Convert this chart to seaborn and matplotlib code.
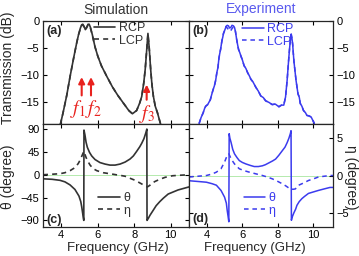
import matplotlib
matplotlib.use("Agg")
import matplotlib.pyplot as plt
import numpy as np
import pandas as pd
import seaborn as sns

# ---- data ----
# simulated transmission (dB)
sim_f = [3.95, 4.1, 4.3, 4.5, 4.7, 4.85, 4.95, 5.05, 5.12, 5.18, 5.25, 5.32, 5.4, 5.47,
         5.53, 5.6, 5.7, 5.85, 6.0, 6.2, 6.5, 6.8, 7.1, 7.4, 7.7, 7.9, 8.13, 8.3, 8.41,
         8.52, 8.6, 8.68, 8.75, 8.82, 8.9, 8.97, 9.05, 9.15, 9.27, 9.45]
sim_rcp = [-19.2, -17.0, -13.8, -10.0, -6.5, -4.0, -2.5, -1.3, -0.7, -0.6, -1.0, -1.6, -1.1, -0.6,
           -0.6, -1.2, -2.5, -4.8, -6.5, -8.3, -10.3, -12.2, -13.8, -15.2, -16.6, -17.2, -16.6, -15.2, -14.0,
           -11.5, -9.0, -5.5, -2.3, -5.0, -9.0, -11.8, -14.0, -15.8, -17.0, -19.2]
sim_lcp = [-19.2, -17.0, -13.8, -10.0, -6.5, -4.0, -2.5, -1.4, -0.8, -0.7, -1.1, -1.7, -1.2, -0.7,
           -0.7, -1.3, -2.6, -4.8, -6.5, -8.3, -10.3, -12.2, -13.8, -15.2, -16.6, -17.2, -16.6, -15.2, -14.0,
           -11.5, -9.0, -5.5, -2.4, -5.0, -9.0, -11.8, -14.0, -15.8, -17.0, -19.2]

# measured transmission (dB)
exp_f = [3.57, 3.68, 3.8, 3.88, 3.94, 4.05, 4.2, 4.28, 4.35, 4.43, 4.5, 4.57, 4.63, 4.68, 4.72,
         4.78, 4.85, 4.9, 4.94, 5.0, 5.09, 5.15, 5.22, 5.28, 5.35, 5.42, 5.5, 5.56, 5.61, 5.68,
         5.74, 5.79, 5.85, 5.92, 6.0, 6.1, 6.2, 6.3, 6.4, 6.48, 6.6, 6.76, 6.9, 7.04, 7.18,
         7.31, 7.5, 7.68, 7.85, 8.06, 8.2, 8.33, 8.43, 8.52, 8.61, 8.66, 8.7, 8.75, 8.79, 8.83,
         8.9, 8.96, 9.02, 9.13, 9.2, 9.26, 9.35, 9.44, 9.55, 9.63, 9.75, 9.87, 9.96, 10.05]
exp_rcp = [-19.0, -17.9, -17.0, -16.2, -15.8, -15.5, -14.6, -13.6, -12.8, -12.0, -11.0, -9.5, -8.6, -7.0, -6.2,
           -5.2, -3.7, -3.0, -2.3, -1.8, -1.0, -0.8, -0.9, -1.3, -1.2, -0.8, -0.9, -1.2, -1.9, -3.4,
           -4.5, -5.3, -5.8, -6.5, -7.2, -8.3, -8.8, -9.6, -10.2, -10.8, -11.3, -12.3, -13.0, -13.9, -14.2,
           -14.8, -15.1, -15.5, -15.4, -15.9, -15.6, -15.6, -14.1, -11.0, -7.0, -5.0, -3.6, -2.4, -3.2, -4.3,
           -7.4, -9.2, -11.0, -13.5, -14.1, -15.3, -15.8, -16.6, -17.0, -17.5, -17.6, -17.8, -18.4, -19.0]
exp_lcp = [-19.0, -17.9, -17.0, -16.2, -15.8, -15.5, -14.6, -13.6, -12.8, -12.0, -11.0, -9.5, -8.6, -7.0, -6.2,
           -5.2, -3.7, -3.0, -2.3, -1.8, -1.0, -1.3, -1.6, -1.9, -1.8, -1.4, -1.1, -1.3, -1.9, -3.4,
           -4.5, -5.3, -5.8, -6.5, -7.2, -8.3, -8.8, -9.6, -10.2, -10.8, -11.3, -12.3, -13.0, -13.9, -14.2,
           -14.8, -15.1, -15.5, -15.4, -15.9, -15.6, -15.6, -14.1, -11.0, -7.0, -5.0, -3.6, -2.6, -3.2, -4.3,
           -7.4, -9.2, -11.0, -13.5, -14.1, -15.3, -15.8, -16.6, -17.0, -17.5, -17.6, -17.8, -18.4, -19.0]

# simulated rotation angle theta and ellipticity eta (degree)
sim_theta_f = [3.0, 3.5, 3.93, 4.2, 4.48, 4.75, 4.97, 5.07, 5.12, 5.17, 5.21, 5.235, 5.245, 5.3,
               5.36, 5.43, 5.55, 5.67, 5.85, 6.12, 6.4, 6.67, 6.95, 7.22, 7.5, 7.77, 7.95, 8.13,
               8.3, 8.41, 8.53, 8.63, 8.69, 8.70, 8.77, 8.86, 9.04, 9.2, 9.4, 9.6, 9.86, 10.4, 11.0]
sim_theta = [-8, -9, -11, -14, -20, -29, -42, -53, -63, -75, -85, -90, 88, 78,
             64, 54, 44, 37, 30, 24, 21, 19, 19, 21, 25, 31, 37, 46,
             55, 62, 71, 82, 90, -90, -86, -80, -70, -61, -53, -46, -38, -30, -24]
sim_eta_f = [3.0, 3.5, 3.93, 4.2, 4.48, 4.75, 4.93, 5.05, 5.12, 5.2, 5.245, 5.3, 5.36, 5.45,
             5.58, 5.75, 5.95, 6.3, 6.67, 7.0, 7.2, 7.5, 7.77, 8.05, 8.3, 8.5, 8.72, 8.85,
             8.95, 9.15, 9.4, 9.7, 10.1, 10.5, 11.0]
sim_eta = [0, 1, 2, 4, 8, 14, 22, 30, 36, 43, 46, 40, 34, 27,
           19, 12, 8, 4, 2, 0, -1, -3, -7, -11, -16, -20, -24, -21,
           -17, -13, -9, -5, -2, -1, 0]

# measured theta and eta (degree)
exp_theta_f = [3.0, 3.5, 3.98, 4.3, 4.54, 4.8, 5.0, 5.1, 5.15, 5.2, 5.24, 5.26, 5.3, 5.37,
               5.46, 5.56, 5.7, 5.83, 6.0, 6.2, 6.45, 6.67, 6.9, 7.13, 7.3, 7.5, 7.7, 7.87,
               8.05, 8.24, 8.4, 8.52, 8.62, 8.7, 8.74, 8.76, 8.8, 8.9, 9.0, 9.07, 9.2, 9.35,
               9.5, 9.72, 10.0, 10.28, 10.6, 10.93, 11.1]
exp_theta = [-0.7, -0.8, -0.9, -1.1, -1.3, -2.0, -2.9, -3.7, -4.7, -5.5, -6.2, 5.6, 5.0, 4.4,
             3.5, 2.9, 2.4, 2.0, 1.75, 1.55, 1.35, 1.2, 1.2, 1.3, 1.45, 1.7, 1.95, 2.2,
             2.7, 3.3, 3.8, 4.4, 5.0, 5.6, 6.0, -6.0, -5.6, -5.0, -4.5, -4.0, -3.5, -3.1,
             -2.8, -2.4, -2.2, -2.0, -1.8, -1.6, -1.6]
exp_eta_f = [3.0, 3.5, 3.98, 4.3, 4.54, 4.8, 5.0, 5.15, 5.24, 5.3, 5.37, 5.46, 5.56, 5.7,
             5.83, 6.1, 6.39, 6.8, 7.13, 7.4, 7.69, 8.0, 8.24, 8.45, 8.6, 8.74, 8.85, 8.98,
             9.17, 9.45, 9.72, 10.0, 10.28, 10.6, 10.93, 11.1]
exp_eta = [-0.2, -0.1, 0.0, 0.2, 0.45, 0.9, 1.8, 2.7, 2.9, 2.6, 2.2, 1.9, 1.55, 1.2,
           0.9, 0.65, 0.45, 0.2, 0.0, -0.2, -0.45, -0.8, -1.1, -1.4, -1.65, -1.8, -1.85, -1.8,
           -1.3, -1.0, -0.67, -0.45, -0.2, -0.1, 0.0, 0.0]

# arrows / labels for the resonance frequencies
f_marks = [5.12, 5.63, 8.68]
f_names = ['$f_1$', '$f_2$', '$f_3$']

GRAY = '#333333'
BLUE = '#3b3bee'
RED = '#e8221e'

sns.set_theme(style="ticks")
plt.rcParams['font.family'] = ['Liberation Sans', 'DejaVu Sans']
plt.rcParams['mathtext.fontset'] = 'stix'
plt.rcParams['axes.linewidth'] = 0.9
for a in ['x', 'y']:
    plt.rcParams[f'{a}tick.direction'] = 'in'
    plt.rcParams[f'{a}tick.major.size'] = 3
    plt.rcParams[f'{a}tick.major.width'] = 0.8
    plt.rcParams[f'{a}tick.labelsize'] = 8
    plt.rcParams[f'{a}tick.major.pad'] = 2.5

W, H = 359, 256
fig = plt.figure(figsize=(W / 100, H / 100), dpi=100)


def box(x0, y0, x1, y1):
    return [x0 / W, 1 - y1 / H, (x1 - x0) / W, (y1 - y0) / H]


ax_a = fig.add_axes(box(43, 21, 189, 124))
ax_b = fig.add_axes(box(189, 21, 333, 124))
ax_c = fig.add_axes(box(43, 124, 189, 227))
ax_d = fig.add_axes(box(189, 124, 333, 227))


def line(ax, x, y, color, ls='-', label=None, lw=1.2):
    df = pd.DataFrame({'f': x, 'v': y})
    sns.lineplot(data=df, x='f', y='v', ax=ax, color=color, linestyle=ls, lw=lw,
                 estimator=None, sort=False, label=label, legend=False)


# (a) simulation transmission
line(ax_a, sim_f, sim_rcp, GRAY, '-', 'RCP')
line(ax_a, sim_f, sim_lcp, GRAY, (0, (3, 2.5)), 'LCP')
# (b) experiment transmission
line(ax_b, exp_f, exp_rcp, BLUE, '-', 'RCP', lw=1.1)
line(ax_b, exp_f, exp_lcp, BLUE, (0, (3, 2.5)), 'LCP', lw=1.1)
# (c) simulation angles
for ax in (ax_c, ax_d):
    ax.axhline(0, color='#a8e6a0', lw=0.6, zorder=0)
line(ax_c, sim_theta_f, sim_theta, GRAY, '-', 'θ')
line(ax_c, sim_eta_f, sim_eta, GRAY, (0, (3, 2.5)), 'η')
# (d) experiment angles
line(ax_d, exp_theta_f, exp_theta, BLUE, '-', 'θ', lw=1.1)
line(ax_d, exp_eta_f, exp_eta, BLUE, (0, (3, 2.5)), 'η', lw=1.1)

# axis ranges and ticks
for ax in (ax_a, ax_b, ax_c, ax_d):
    ax.set_xlabel('')
    ax.set_ylabel('')
    ax.set_xticks([4, 6, 8, 10])
    ax.tick_params(top=True, right=True, left=True, bottom=True, colors='black')
ax_a.set_xlim(3, 11)
ax_c.set_xlim(3, 11)
ax_b.set_xlim(3, 11.1)
ax_d.set_xlim(3, 11.1)
for ax in (ax_a, ax_b):
    ax.set_ylim(-19.1, 0)
    ax.set_yticks([0, -5, -10, -15])
    ax.tick_params(labelbottom=False)
ax_c.set_ylim(-103, 100)
ax_c.set_yticks([90, 45, 0, -45, -90])
ax_d.set_ylim(-6.9, 6.9)
ax_d.set_yticks([5, 0, -5])
for ax in (ax_b, ax_d):
    ax.tick_params(labelleft=False, labelright=True)

# titles and labels
fig.text(116 / W, 1 - 10 / H, 'Simulation', ha='center', va='center', fontsize=10, color=GRAY)
fig.text(261 / W, 1 - 9 / H, 'Experiment', ha='center', va='center', fontsize=10, color='#5a5aee')
fig.text(8 / W, 1 - 68 / H, 'Transmission (dB)', rotation=90, ha='center', va='center', fontsize=10)
fig.text(8 / W, 1 - 177 / H, 'θ (degree)', rotation=90, ha='center', va='center', fontsize=10)
fig.text(351 / W, 1 - 177 / H, 'η (degree)', rotation=-90, ha='center', va='center', fontsize=10)
fig.text(118 / W, 1 - 248 / H, 'Frequency (GHz)', ha='center', va='center', fontsize=9.5)
fig.text(255 / W, 1 - 248 / H, 'Frequency (GHz)', ha='center', va='center', fontsize=9.5)

# panel letters
for ax, tag in ((ax_a, '(a)'), (ax_b, '(b)')):
    ax.text(0.02, 0.9, tag, transform=ax.transAxes, fontsize=9, fontweight='bold', va='center')
ax_c.text(0.025, 0.07, '(c)', transform=ax_c.transAxes, fontsize=9, fontweight='bold', va='center')
ax_d.text(0.02, 0.08, '(d)', transform=ax_d.transAxes, fontsize=9, fontweight='bold', va='center')

# legends
leg_kw = dict(frameon=False, loc='upper left', fontsize=9, handlelength=1.7,
              handletextpad=0.3, labelspacing=0.05, borderpad=0, borderaxespad=0)
ax_a.legend(bbox_to_anchor=(0.35, 0.99), labelcolor=GRAY, **leg_kw)
ax_b.legend(bbox_to_anchor=(0.37, 0.98), labelcolor=BLUE, **leg_kw)
ax_c.legend(bbox_to_anchor=(0.38, 0.34), labelcolor=GRAY, **leg_kw)
ax_d.legend(bbox_to_anchor=(0.38, 0.34), labelcolor=BLUE, **leg_kw)

# red arrows marking f1, f2, f3
arrow_base = [-13.8, -13.8, -14.6]
arrow_tip = [-10.4, -10.4, -11.8]
text_pos = [(4.92, -16.4), (5.75, -16.4), (8.7, -17.3)]
for fx, y0, y1, name, (tx, ty) in zip(f_marks, arrow_base, arrow_tip, f_names, text_pos):
    ax_a.annotate('', xy=(fx, y1), xytext=(fx, y0),
                  arrowprops=dict(arrowstyle='-|>', color=RED, lw=1.5, mutation_scale=9,
                                  shrinkA=0, shrinkB=0))
    ax_a.text(tx, ty, name, color=RED, fontsize=14, ha='center', va='center')

fig.savefig('out.png', dpi=100, facecolor='white')
